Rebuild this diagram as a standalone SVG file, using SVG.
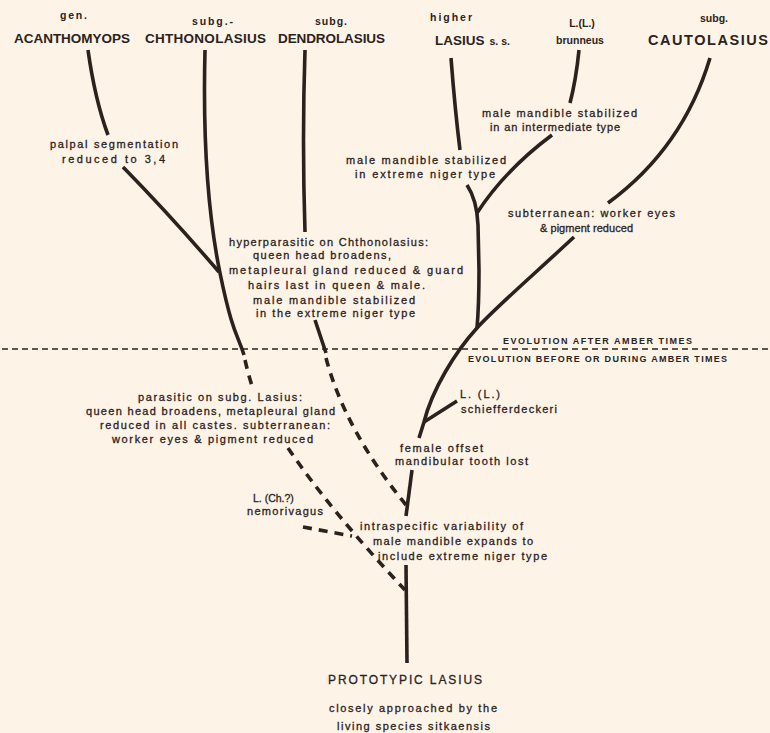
<svg xmlns="http://www.w3.org/2000/svg" width="770" height="733" viewBox="0 0 770 733">
<style>
text{font-family:"Liberation Sans",Arial,sans-serif;fill:#2b221e}
.cap{font-size:13.5px;font-weight:bold}
.sm{font-size:10.5px;font-weight:bold}
.n{font-size:11px;stroke:#2b221e;stroke-width:0.3}
.ev{font-size:9px;font-weight:bold}
.pro{font-size:12px;stroke:#2b221e;stroke-width:0.3}
.b{fill:none;stroke:#2b221e;stroke-width:3.6;stroke-linecap:butt}
.d{fill:none;stroke:#2b221e;stroke-width:3.6;stroke-dasharray:9 7}
.h{fill:none;stroke:#2b221e;stroke-width:1.6;stroke-dasharray:6 4}
</style>
<rect width="770" height="733" fill="#fdf4e7"/>
<g id="connectors">
<path class="h" d="M2,349 L770,349"/>
<path class="b" d="M88,50 Q95,100 108,135"/>
<path class="b" d="M123,167 Q170,215 219,272"/>
<path class="b" d="M205,50 C203,130 207,210 220,273 S238,335 244,355"/>
<path class="d" d="M245,360 Q248,373 252,386"/>
<path class="d" d="M288,448 Q330,510 405,590"/>
<path class="d" d="M303,527 L352,536"/>
<path class="b" d="M305,50 Q302,140 305,232"/>
<path class="b" d="M315,320 L326,353"/>
<path class="d" d="M326,358 Q345,430 406,505"/>
<path class="b" d="M451,58 Q455,110 460,150"/>
<path class="b" d="M467,185 Q477,200 478,225 L479,270 Q479,305 477,328"/>
<path class="b" d="M579,50 Q576,80 570,103"/>
<path class="b" d="M552,135 Q505,170 477,213"/>
<path class="b" d="M710,58 Q683,148 608,203"/>
<path class="b" d="M574,237 C530,278 495,308 477,328 C455,352 432,390 424,422 L419,438"/>
<path class="b" d="M424,422 L457,401"/>
<path class="b" d="M412,470 L406,516"/>
<path class="b" d="M406,565 L407,663"/>
</g>
<g id="acanthomyops">
<text class="sm" x="60" y="19" textLength="27">gen.</text>
<text class="cap" x="14" y="43" textLength="116">ACANTHOMYOPS</text>
</g>
<g id="chthonolasius">
<text class="sm" x="192" y="25" textLength="41">subg.-</text>
<text class="cap" x="145" y="43" textLength="121">CHTHONOLASIUS</text>
</g>
<g id="dendrolasius">
<text class="sm" x="315" y="25" textLength="32">subg.</text>
<text class="cap" x="278" y="43" textLength="107">DENDROLASIUS</text>
</g>
<g id="lasius-ss">
<text class="sm" x="430" y="21" textLength="42">higher</text>
<text x="435" y="45"><tspan class="cap">LASIUS</tspan><tspan class="sm" dx="5">s. s.</tspan></text>
</g>
<g id="brunneus">
<text class="sm" x="582" y="27" text-anchor="middle">L.(L.)</text>
<text class="sm" x="580" y="44" text-anchor="middle">brunneus</text>
</g>
<g id="cautolasius">
<text class="sm" x="700" y="22" textLength="28">subg.</text>
<text class="cap" x="648" y="45" textLength="120" style="font-size:14.5px">CAUTOLASIUS</text>
</g>
<g id="note-palpal">
<text class="n" x="50" y="148" textLength="128">palpal segmentation</text>
<text class="n" x="62" y="163" textLength="103">reduced to 3,4</text>
</g>
<g id="note-brunneus">
<text class="n" x="482" y="117" textLength="155">male mandible stabilized</text>
<text class="n" x="490" y="131" textLength="130">in an intermediate type</text>
</g>
<g id="note-lasius">
<text class="n" x="346" y="164" textLength="160">male mandible stabilized</text>
<text class="n" x="355" y="178" textLength="140">in extreme niger type</text>
</g>
<g id="note-cauto">
<text class="n" x="508" y="217" textLength="167">subterranean:  worker eyes</text>
<text class="n" x="540" y="232" textLength="93">&amp; pigment reduced</text>
</g>
<g id="note-hyper">
<text class="n" x="229" y="246" textLength="199">hyperparasitic on Chthonolasius:</text>
<text class="n" x="253" y="259" textLength="138">queen head broadens,</text>
<text class="n" x="229" y="274" textLength="234">metapleural gland reduced &amp; guard</text>
<text class="n" x="248" y="289" textLength="177">hairs last in queen &amp; male.</text>
<text class="n" x="253" y="304" textLength="162">male mandible stabilized</text>
<text class="n" x="256" y="317" textLength="159">in the extreme niger type</text>
</g>
<g id="amber">
<text class="ev" x="503" y="344" textLength="189">EVOLUTION AFTER AMBER TIMES</text>
<text class="ev" x="468" y="362" textLength="259">EVOLUTION BEFORE OR DURING AMBER TIMES</text>
</g>
<g id="note-parasitic">
<text class="n" x="138" y="401" textLength="164">parasitic on subg. Lasius:</text>
<text class="n" x="86" y="415" textLength="249">queen head broadens, metapleural gland</text>
<text class="n" x="100" y="429" textLength="230">reduced in all castes.  subterranean:</text>
<text class="n" x="112" y="443" textLength="201">worker eyes &amp; pigment reduced</text>
</g>
<g id="schiefferdeckeri">
<text class="n" x="460" y="398" textLength="40">L. (L.)</text>
<text class="n" x="461" y="413" textLength="96">schiefferdeckeri</text>
</g>
<g id="note-female">
<text class="n" x="400" y="452" textLength="83">female offset</text>
<text class="n" x="395" y="465" textLength="133">mandibular tooth lost</text>
</g>
<g id="nemorivagus">
<text class="n" x="253" y="502" style="font-size:10.5px">L. (Ch.?)</text>
<text class="n" x="247" y="515" textLength="76">nemorivagus</text>
</g>
<g id="note-intraspecific">
<text class="n" x="360" y="530" textLength="163">intraspecific variability of</text>
<text class="n" x="373" y="545" textLength="160">male mandible expands to</text>
<text class="n" x="378" y="560" textLength="169">include extreme niger type</text>
</g>
<g id="prototypic">
<text class="pro" x="328" y="684" textLength="154">PROTOTYPIC LASIUS</text>
<text class="n" x="329" y="712" textLength="168">closely approached by the</text>
<text class="n" x="337" y="730" textLength="153">living species sitkaensis</text>
</g>
</svg>
